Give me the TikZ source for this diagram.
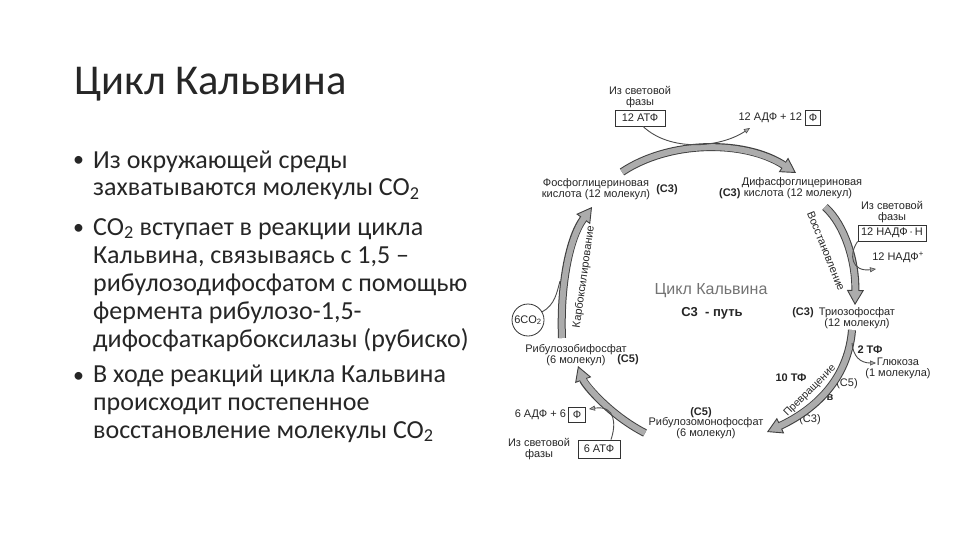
\documentclass[tikz,border=0pt]{standalone}
\usepackage{fontspec}
\setmainfont{Carlito}
\newfontfamily\diagfont{Liberation Sans}
\usetikzlibrary{arrows.meta,positioning}
\definecolor{bandgray}{RGB}{172,172,172}
\definecolor{txtgray}{RGB}{38,38,38}

\begin{document}
\begin{tikzpicture}
	[x=1pt,y=-1pt,
	 lbl/.style={font=\diagfont\fontsize{11}{11}\selectfont, text=black!85, inner sep=0pt, align=center},
	 blbl/.style={lbl, font=\diagfont\bfseries\fontsize{11}{11}\selectfont},
	 fbox/.style={lbl, draw=black!80, line width=0.8pt, inner xsep=3pt, minimum height=16pt},
	 band/.style={draw=black!75, line width=8pt, -{Triangle[length=15pt,width=17pt,line width=0.9pt,fill=bandgray]},
	   postaction={draw=bandgray, line width=6pt, -, shorten >=13pt}},
	 feed/.style={draw=black!70, line width=0.9pt, -{Triangle[length=6pt,width=5pt,line width=0.6pt,fill=bandgray]}},
	 item/.style={anchor=base west, inner sep=0pt, align=left, text=txtgray, font=\fontsize{26}{28}\selectfont},
	 dot/.style={anchor=base west, inner sep=0pt, text=txtgray, font=\fontsize{22}{28}\selectfont}]
	\useasboundingbox[fill=white] (0,0) rectangle (960,540);

	% slide text (base = last line)
	\node[anchor=base west, inner sep=0pt, text=txtgray, font=\fontsize{42.5}{42}\selectfont] (title) at (74,95) {Цикл Кальвина};
	\node[item] (b1) at (93,196) {Из окружающей среды\\захватываются молекулы CO\textsubscript{2}};
	\node[item] (b2) at (93,347) {CO\textsubscript{2} вступает в реакции цикла\\Кальвина, связываясь с 1,5 –\\рибулозодифосфатом с помощью\\фермента рибулозо-1,5-\\дифосфаткарбоксилазы (рубиско)};
	\node[item] (b3) at (93,438) {В ходе реакций цикла Кальвина\\происходит постепенное\\восстановление молекулы CO\textsubscript{2}};
	\node[dot] (d1) at (73,167) {\textbullet};
	\node[dot] (d2) at (73,234) {\textbullet};
	\node[dot] (d3) at (73,382) {\textbullet};

	% cycle labels
	\node[lbl] (lfT) at (640,97) {Из световой\\фазы};
	\node[fbox, minimum width=50pt] (atpT) at (640,118) {12 АТФ};
	\node[fbox, minimum width=15pt, minimum height=15pt, inner xsep=1pt] (phT) at (813,118) {Ф};
	\node[lbl, left=3pt of phT] (adpT) {12 АДФ + 12};
	\node[lbl] (pga) at (596,189) {Фосфоглицериновая\\кислота (12 молекул)};
	\node[blbl] (pgaC) at (667,190) {(С3)};
	\node[lbl] (dpga) at (802,183) {Дифасфоглицериновая};
	\node[lbl] (dpgb) at (798,194) {кислота (12 молекул)};
	\node[blbl, left=3pt of dpgb] (dpgC) {(С3)};
	\node[lbl] (lfR) at (892,212) {Из световой\\фазы};
	\node[fbox] (nadph) at (892,233) {12 НАДФ\,·\,Н};
	\node[lbl] (nadp) at (898,257) {12 НАДФ\textsuperscript{+}};
	\node[lbl] (tp) at (857,318) {Триозофосфат\\(12 молекул)};
	\node[blbl] (tpC) at (803,313) {(С3)};
	\node[blbl] (tf2) at (870,350) {2 ТФ};
	\node[lbl] (glc) at (898,368) {Глюкоза\\(1 молекула)};
	\node[blbl] (tf10) at (791,378) {10 ТФ};
	\node[lbl] (c5r) at (847,384) {(С5)};
	\node[blbl] (bv) at (830,398) {в};
	\node[lbl] (c3r) at (810,420) {(С3)};
	\node[blbl] (rmpC) at (701,413) {(С5)};
	\node[lbl] (rmp) at (706,428) {Рибулозомонофосфат\\(6 молекул)};
	\node[fbox, minimum width=17pt, minimum height=15pt, inner xsep=1pt] (phB) at (577,415) {Ф};
	\node[lbl, left=2pt of phB] (adpB) {6 АДФ + 6};
	\node[lbl] (lfB) at (539,449) {Из световой\\фазы};
	\node[fbox, minimum width=42pt, minimum height=18pt] (atpB) at (599,449) {6 АТФ};
	\node[lbl] (rbp) at (576,355) {Рибулозобифосфат\\(6 молекул)};
	\node[blbl] (rbpC) at (628,360) {(С5)};
	\node[lbl, circle, draw=black!80, line width=0.8pt, minimum size=32pt] (co2) at (528,320) {6CO\textsubscript{2}};
	\node[lbl, text=black!55, font=\diagfont\fontsize{16}{16}\selectfont] (cyc) at (711,291) {Цикл Кальвина};
	\node[blbl, font=\diagfont\bfseries\fontsize{13}{13}\selectfont] (way) at (712,313) {С3 \ - путь};
	\node[lbl, rotate=-68] (redn) at (826,251) {Восстановление};
	\node[lbl, rotate=45, font=\diagfont\fontsize{10.5}{11}\selectfont] (conv) at (810,391) {Превращение};
	\node[lbl, rotate=82] (carb) at (584,277) {Карбоксилирование};

	% band ends
	\coordinate (t1) at (622,172); \coordinate (h1) at (796,173);
	\coordinate (t2) at (825,207); \coordinate (h2) at (855,305);
	\coordinate (t3) at (852,330); \coordinate (h3) at (767,432);
	\coordinate (t4) at (645,433); \coordinate (h4) at (578,366);
	\coordinate (t5) at (562,338); \coordinate (h5) at (592,207);
	% feed ends
	\coordinate (fT) at (750,128);
	\coordinate (fR) at (876,269);
	\coordinate (fG) at (876,363);
	\coordinate (fB) at (589,409);
	\coordinate (fC) at (560,281);
	\coordinate (g0) at (852,343);

	\draw[band] (t1) .. controls (670,140) and (745,140) .. (h1);
	\draw[band] (t2) .. controls (845,225) and (856,262) .. (h2);
	\draw[band] (t3) .. controls (848,380) and (814,410) .. (h3);
	\draw[band] (t4) .. controls (610,415) and (585,385) .. (h4);
	\draw[band] (t5) .. controls (560,290) and (568,240) .. (h5);

	\draw[feed] ([xshift=3pt]atpT.south) .. controls (670,152) and (720,148) .. (fT);
	\draw[feed] (nadph.south west) .. controls (848,255) and (852,272) .. (fR);
	\draw[feed] (g0) .. controls (853,356) and (860,363) .. (fG);
	\draw[feed] ([xshift=12pt]atpB.north) .. controls (616,425) and (616,405) .. (fB);
	\draw[draw=black!70, line width=0.9pt] (co2.30) .. controls (555,305) and (557,292) .. (fC);
\end{tikzpicture}
\end{document}
